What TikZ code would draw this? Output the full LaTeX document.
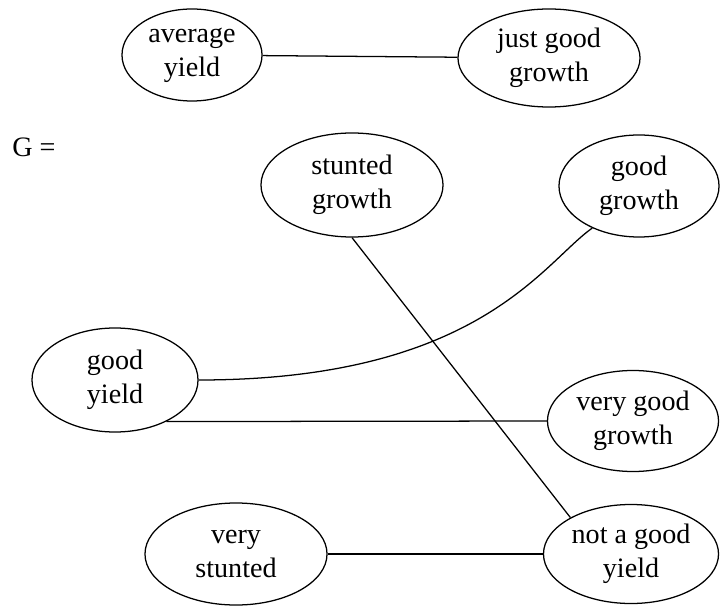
\documentclass[tikz,border=0pt]{standalone}
\usepackage{fontspec}
\setmainfont{Liberation Serif}
\usetikzlibrary{shapes.geometric}
\begin{document}
\begin{tikzpicture}[x=0.025cm, y=0.025cm, line width=0.9pt, font=\fontsize{20}{24}\selectfont,
		state/.style={draw, ellipse, inner sep=0pt, align=center}]
				\useasboundingbox (0,0) rectangle (720,605);
				\node at (34,458) (G) {G =};
				\node[state, minimum width=3.5cm, minimum height=2.3cm] (avg) at (192,550) {average\\yield};
				\node[state, minimum width=4.55cm, minimum height=2.45cm] (jgood) at (549,547) {just good\\growth};
				\node[state, minimum width=4.55cm, minimum height=2.6cm] (stunted) at (352,420) {stunted\\growth};
				\node[state, minimum width=4cm, minimum height=2.55cm] (ggrowth) at (639,419) {good\\growth};
				\node[state, minimum width=4.15cm, minimum height=2.6cm] (gyield) at (115,225) {good\\yield};
				\node[state, minimum width=4.275cm, minimum height=2.525cm] (vgood) at (633,184) {very good\\growth};
				\node[state, minimum width=4.55cm, minimum height=2.55cm] (vstunted) at (236,51) {very\\stunted};
				\node[state, minimum width=4.375cm, minimum height=2.475cm] (notgood) at (631,51) {not a good\\yield};
				\foreach \a/\b in {avg/jgood, stunted.south/notgood.149, gyield.-39/vgood.west, vstunted/notgood}{
				\draw (\a)--(\b);
				}
				\draw (gyield.east) .. controls +(280,0) and +(215:60) .. (ggrowth.222);
			\end{tikzpicture}
\end{document}
